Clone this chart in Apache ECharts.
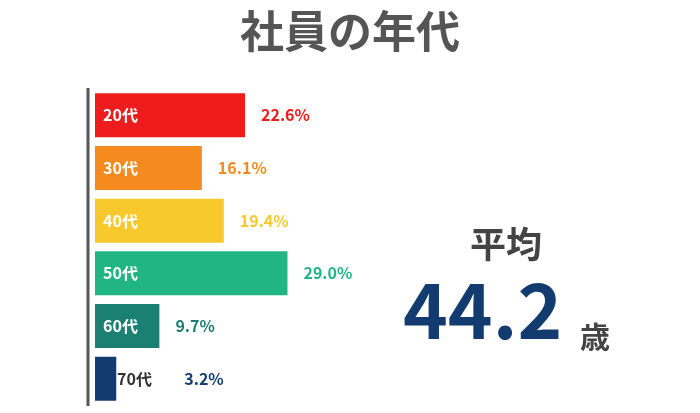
<!DOCTYPE html>
<html><head><meta charset="utf-8">
<script src="https://cdn.jsdelivr.net/npm/echarts@6/dist/echarts.min.js"></script>
<style>html,body{margin:0;padding:0;background:#fff}#c{width:700px;height:413px}</style>
</head><body><div id="c"></div>
<script>
const categories = ['20代','30代','40代','50代','60代','70代'];
const values = [22.6, 16.1, 19.4, 29.0, 9.7, 3.2];
const colors = ['#ee1c1c','#f58a1f','#f8c92c','#21b584','#1b7f72','#123c70'];
const average = '44.2';

const chart = echarts.init(document.getElementById('c'));
const font = '"Noto Sans CJK JP","Noto Sans",sans-serif';
chart.setOption({
  animation:false,
  title:{text:'社員の年代',left:'center',top:4,textStyle:{fontSize:44,fontWeight:'bold',color:'#555',fontFamily:font}},
  grid:{left:95,top:89,width:300,height:316},
  xAxis:{type:'value',min:0,max:45.2,show:false},
  yAxis:{type:'category',data:categories,inverse:true,z:10,
    axisLine:{show:false},axisTick:{show:false},
    axisLabel:{inside:true,margin:8,fontFamily:font,fontWeight:'bold',fontSize:16,
      formatter:(v)=>v==='70代'?'{d|'+v+'}':'{w|'+v+'}',
      rich:{w:{color:'#fff',fontWeight:'bold',fontSize:16,fontFamily:font},
            d:{color:'#333',fontWeight:'bold',fontSize:16,fontFamily:font,padding:[0,0,0,14]}}}},
  series:[{type:'bar',barWidth:44,
    data:values.map((v,i)=>({value:v,itemStyle:{color:colors[i]},
      label:{color:colors[i],distance:i===5?68:16}})),
    label:{show:true,position:'right',fontWeight:'bold',fontSize:16,fontFamily:font,
      formatter:p=>p.value.toFixed(1)+'%'},
    z:1}],
  graphic:[
    {type:'line',shape:{x1:88,y1:88,x2:88,y2:406},style:{stroke:'#555',lineWidth:3}},
    {type:'text',left:470,top:226,style:{text:'平均',fill:'#444',font:'bold 36px '+font}},
    {type:'text',left:403,top:272,style:{text:average,fill:'#123c70',font:'bold 76px '+font}},
    {type:'text',left:580,top:322,style:{text:'歳',fill:'#444',font:'bold 30px '+font}}
  ]
});
</script></body></html>
